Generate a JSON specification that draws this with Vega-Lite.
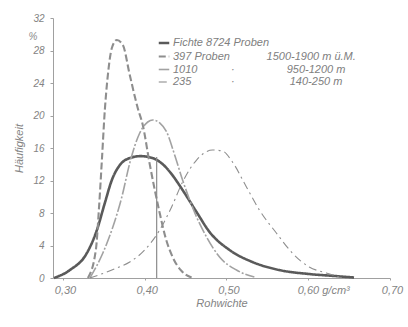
{
  "$schema": "https://vega.github.io/schema/vega-lite/v6.json",
  "width": 337,
  "height": 260,
  "autosize": {"type": "none"},
  "padding": {"left": 53, "top": 18, "right": 18, "bottom": 49},
  "background": "white",
  "config": {
    "view": {"stroke": null},
    "font": "Liberation Sans",
    "axis": {
      "labelFont": "Liberation Sans", "labelFontStyle": "italic", "labelColor": "#848484",
      "labelFlush": false, "labelOverlap": false, "domainColor": "#a0a0a0", "tickColor": "#a0a0a0", "grid": false,
      "titleFont": "Liberation Sans", "titleFontStyle": "italic", "titleFontWeight": "normal", "titleFontSize": 11, "titleColor": "#848484"
    }
  },
  "datasets": {
    "curves": [
      {"series": "Fichte", "x": 0.289, "y": 0},
      {"series": "Fichte", "x": 0.3085, "y": 0.98},
      {"series": "Fichte", "x": 0.3293, "y": 3.08},
      {"series": "Fichte", "x": 0.3415, "y": 5.9},
      {"series": "Fichte", "x": 0.3512, "y": 9.23},
      {"series": "Fichte", "x": 0.3598, "y": 12.06},
      {"series": "Fichte", "x": 0.3695, "y": 13.9},
      {"series": "Fichte", "x": 0.3800, "y": 14.7},
      {"series": "Fichte", "x": 0.3950, "y": 15.0},
      {"series": "Fichte", "x": 0.4100, "y": 14.75},
      {"series": "Fichte", "x": 0.422, "y": 14.0},
      {"series": "Fichte", "x": 0.4320, "y": 12.9},
      {"series": "Fichte", "x": 0.4463, "y": 10.83},
      {"series": "Fichte", "x": 0.4634, "y": 8.12},
      {"series": "Fichte", "x": 0.4793, "y": 5.66},
      {"series": "Fichte", "x": 0.5037, "y": 3.45},
      {"series": "Fichte", "x": 0.5317, "y": 1.97},
      {"series": "Fichte", "x": 0.5646, "y": 0.98},
      {"series": "Fichte", "x": 0.6012, "y": 0.49},
      {"series": "Fichte", "x": 0.6317, "y": 0.25},
      {"series": "Fichte", "x": 0.656, "y": 0.06},
      {"series": "397", "x": 0.3305, "y": 0},
      {"series": "397", "x": 0.3402, "y": 3.45},
      {"series": "397", "x": 0.3439, "y": 8.37},
      {"series": "397", "x": 0.3476, "y": 14.52},
      {"series": "397", "x": 0.3512, "y": 20.68},
      {"series": "397", "x": 0.3549, "y": 24.98},
      {"series": "397", "x": 0.3598, "y": 28.31},
      {"series": "397", "x": 0.3659, "y": 29.29},
      {"series": "397", "x": 0.3732, "y": 28.68},
      {"series": "397", "x": 0.3817, "y": 24.98},
      {"series": "397", "x": 0.3915, "y": 20.9},
      {"series": "397", "x": 0.3976, "y": 18.83},
      {"series": "397", "x": 0.4061, "y": 14.02},
      {"series": "397", "x": 0.4183, "y": 8.0},
      {"series": "397", "x": 0.4256, "y": 4.92},
      {"series": "397", "x": 0.4341, "y": 2.58},
      {"series": "397", "x": 0.4451, "y": 0.86},
      {"series": "397", "x": 0.4573, "y": 0.06},
      {"series": "1010", "x": 0.3329, "y": 0},
      {"series": "1010", "x": 0.3488, "y": 3.08},
      {"series": "1010", "x": 0.361, "y": 6.28},
      {"series": "1010", "x": 0.372, "y": 9.97},
      {"series": "1010", "x": 0.3817, "y": 14.15},
      {"series": "1010", "x": 0.3939, "y": 17.85},
      {"series": "1010", "x": 0.4037, "y": 19.2},
      {"series": "1010", "x": 0.4098, "y": 19.45},
      {"series": "1010", "x": 0.4183, "y": 19.08},
      {"series": "1010", "x": 0.4268, "y": 17.97},
      {"series": "1010", "x": 0.4366, "y": 15.14},
      {"series": "1010", "x": 0.4463, "y": 12.06},
      {"series": "1010", "x": 0.4634, "y": 7.51},
      {"series": "1010", "x": 0.4756, "y": 5.05},
      {"series": "1010", "x": 0.4915, "y": 2.58},
      {"series": "1010", "x": 0.5122, "y": 0.98},
      {"series": "1010", "x": 0.5341, "y": 0.12},
      {"series": "235", "x": 0.3329, "y": 0},
      {"series": "235", "x": 0.3659, "y": 1.23},
      {"series": "235", "x": 0.3817, "y": 1.97},
      {"series": "235", "x": 0.4, "y": 3.45},
      {"series": "235", "x": 0.4183, "y": 5.91},
      {"series": "235", "x": 0.4329, "y": 8.74},
      {"series": "235", "x": 0.4463, "y": 11.82},
      {"series": "235", "x": 0.4634, "y": 14.52},
      {"series": "235", "x": 0.4829, "y": 15.75},
      {"series": "235", "x": 0.4951, "y": 15.63},
      {"series": "235", "x": 0.5073, "y": 14.28},
      {"series": "235", "x": 0.5244, "y": 11.2},
      {"series": "235", "x": 0.5402, "y": 8.37},
      {"series": "235", "x": 0.561, "y": 5.54},
      {"series": "235", "x": 0.5805, "y": 3.08},
      {"series": "235", "x": 0.6012, "y": 1.35},
      {"series": "235", "x": 0.622, "y": 0.62},
      {"series": "235", "x": 0.6378, "y": 0.12}
    ],
    "mean": [{"x": 0.4146, "y": 0, "y2": 14.9}]
  },
  "encoding": {
    "x": {
      "field": "x", "type": "quantitative",
      "scale": {"domain": [0.2878, 0.7], "nice": false, "zero": false},
      "axis": {
        "values": [0.3, 0.4, 0.5, 0.6, 0.7],
        "labelExpr": "datum.value == 0.6 ? '0,60 g/cm³' : replace(format(datum.value, '.2f'), '.', ',')",
        "labelAlign": {"condition": {"test": "datum.value == 0.6", "value": "left"}, "value": "center"},
        "labelOffset": {"condition": {"test": "datum.value == 0.6", "value": -11}, "value": 2},
        "labelFontSize": 11, "labelPadding": 4, "tickSize": 2,
        "title": "Rohwichte", "titlePadding": 2
      }
    },
    "y": {
      "field": "y", "type": "quantitative",
      "scale": {"domain": [0, 32], "nice": false},
      "axis": {
        "values": [0, 4, 8, 12, 16, 20, 24, 28, 32],
        "labelFontSize": 10, "labelPadding": 6, "tickSize": 3,
        "title": "Häufigkeit", "titlePadding": 8
      }
    }
  },
  "layer": [
    {
      "data": {"name": "curves"},
      "mark": {"type": "line", "interpolate": "monotone"},
      "encoding": {
        "color": {
          "field": "series", "type": "nominal",
          "scale": {"domain": ["Fichte", "397", "1010", "235"], "range": ["#5a5a5a", "#8e8e8e", "#a2a2a2", "#8e8e8e"]},
          "legend": {
            "orient": "none", "legendX": 104, "legendY": 18, "title": null, "symbolType": "stroke", "symbolSize": 110,
            "labelFont": "Liberation Sans", "labelFontStyle": "italic", "labelFontSize": 11, "labelColor": "#808080",
            "rowPadding": 1, "labelOffset": 2, "labelLimit": 400, "padding": 0,
            "labelExpr": "datum.value == 'Fichte' ? 'Fichte 8724 Proben' : datum.value == '397' ? '397 Proben\u00a0\u00a0\u00a0\u00a0\u00a0\u00a0\u00a0\u00a0\u00a0\u00a0\u00a0\u00a01500-1900 m ü.M.' : datum.value == '1010' ? '\u00a01010\u00a0\u00a0\u00a0\u00a0\u00a0\u00a0\u00a0\u00a0\u00a0\u00a0\u00a0·\u00a0\u00a0\u00a0\u00a0\u00a0\u00a0\u00a0\u00a0\u00a0\u00a0\u00a0\u00a0\u00a0\u00a0\u00a0\u00a0\u00a0950-1200 m' : '\u00a0235\u00a0\u00a0\u00a0\u00a0\u00a0\u00a0\u00a0\u00a0\u00a0\u00a0\u00a0\u00a0\u00a0·\u00a0\u00a0\u00a0\u00a0\u00a0\u00a0\u00a0\u00a0\u00a0\u00a0\u00a0\u00a0\u00a0\u00a0\u00a0\u00a0\u00a0\u00a0140-250 m'"
          }
        },
        "strokeDash": {
          "field": "series", "type": "nominal",
          "scale": {"domain": ["Fichte", "397", "1010", "235"], "range": [[1, 0], [7, 3], [12, 2, 2, 2], [8, 4, 2, 4]]},
          "legend": null
        },
        "strokeWidth": {
          "field": "series", "type": "nominal",
          "scale": {"domain": ["Fichte", "397", "1010", "235"], "range": [2.6, 1.1, 1.0, 1.1]},
          "legend": null
        }
      }
    },
    {
      "data": {"name": "mean"},
      "mark": {"type": "rule", "color": "#8c8c8c", "strokeWidth": 1.2},
      "encoding": {
        "y2": {"field": "y2"}
      }
    },
    {
      "data": {"name": "mean"},
      "mark": {"type": "text", "font": "Liberation Sans", "fontStyle": "italic", "fontSize": 10, "color": "#8a8a8a", "dx": -20, "text": "%"},
      "encoding": {
        "x": {"datum": 0.2878, "type": "quantitative"},
        "y": {"datum": 29.66, "type": "quantitative"}
      }
    }
  ]
}
